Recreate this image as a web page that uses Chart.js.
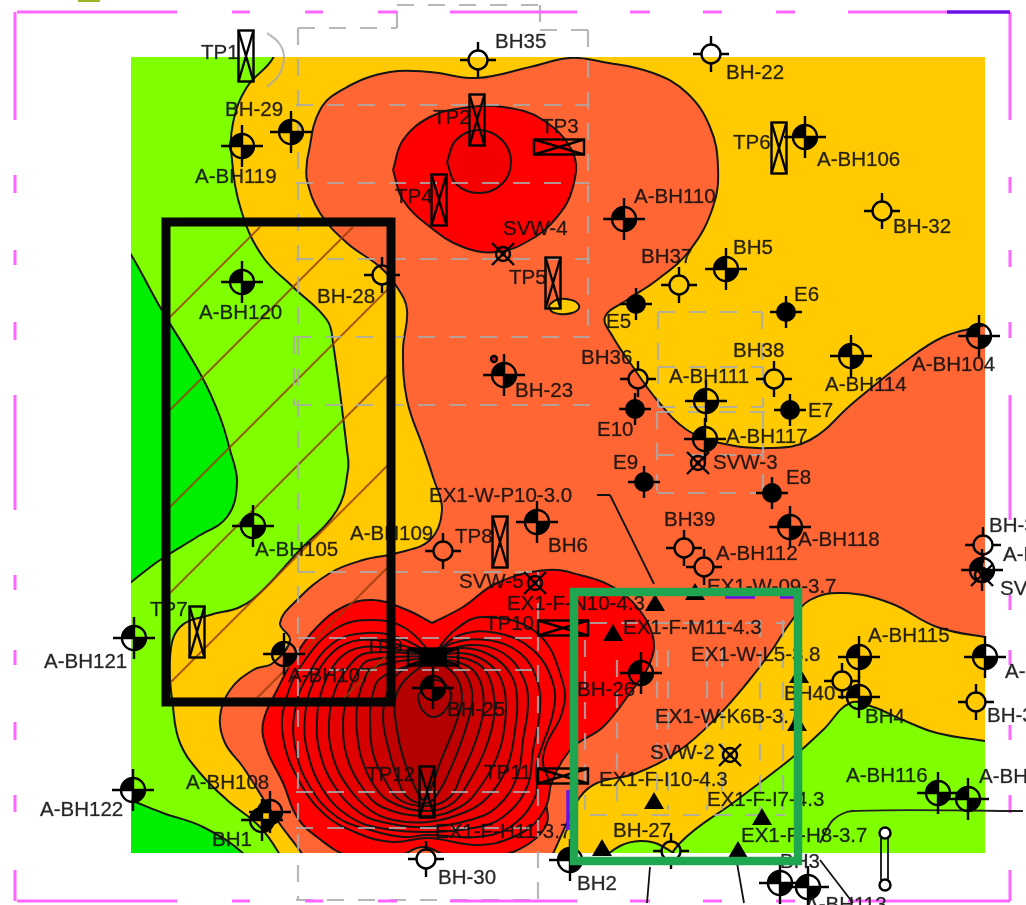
<!DOCTYPE html>
<html><head><meta charset="utf-8">
<style>html,body{margin:0;padding:0;background:#fff;overflow:hidden}canvas{display:block;filter:blur(.7px)}</style>
<script src="https://cdn.jsdelivr.net/npm/chart.js@4"></script>
</head><body><canvas id="c" width="1026" height="905"></canvas>
<script>
// ---------- contour zones (map coordinates) ----------
const mapRect = [131,57,985,853];
const amberZone = [[273,40],[273,58],[247,87],[233,123],[232,160],[242,213],[263,257],[293,287],[327,320],[333,343],[347,450],[348,470],[337,510],[297,553],[263,590],[240,607],[210,615],[180,627],[170,657],[173,707],[180,743],[200,773],[227,800],[260,827],[280,855],[292,880],[1010,880],[1010,30]];
const brightLeftUpper = [[100,210],[130,253],[160,307],[202,377],[220,417],[230,450],[237,483],[227,517],[197,537],[160,560],[130,583],[95,610]];
const brightLeftLower = [[100,790],[130,800],[163,813],[203,827],[245,855],[262,880],[100,880]];
const limeRight = [[655,885],[680,843],[737,800],[793,757],[823,730],[850,703],[873,707],[903,720],[937,733],[985,741],[1015,745],[1015,885]];
const limeBump = [[598,862],[620,846],[640,841],[660,845],[680,862]];
const orangeZone = [[307,160],[320,110],[347,87],[390,72],[430,72],[477,78],[530,67],[570,58],[603,62],[653,73],[687,93],[710,127],[718,167],[713,207],[690,250],[657,280],[627,300],[605,317],[613,337],[633,367],[657,400],[687,430],[720,443],[770,448],[810,440],[853,403],[903,363],[943,337],[985,325],[1015,315],[1020,480],[1015,640],[985,637],[937,627],[890,603],[843,593],[810,600],[790,623],[770,653],[747,683],[717,717],[680,750],[637,773],[597,783],[580,797],[566,825],[552,856],[540,880],[318,880],[303,855],[277,820],[243,767],[225,743],[220,717],[230,690],[253,670],[273,663],[290,640],[280,623],[297,600],[330,573],[363,560],[397,553],[430,540],[442,510],[433,477],[423,447],[407,400],[403,350],[407,310],[397,287],[380,267],[347,243],[320,213],[307,180]];
const amberEllipse = [[549,305],[556,300],[566,299],[576,302],[579,308],[572,313],[560,314],[551,311]];
const redTop = [[393,170],[403,140],[430,117],[463,108],[503,107],[543,120],[573,153],[573,187],[557,217],[530,240],[497,252],[463,247],[430,227],[403,200]];
const redCircle = [[447,162],[456,140],[479,130],[502,140],[511,162],[502,184],[479,193],[456,184]];
const redBottom = [[432,623],[407,610],[373,600],[343,607],[317,627],[297,653],[277,690],[263,723],[267,750],[283,783],[297,817],[317,837],[350,856],[397,856],[423,847],[450,856],[497,856],[530,843],[547,823],[547,797],[570,750],[603,727],[630,693],[650,663],[653,637],[637,607],[613,587],[580,575],[547,570],[497,583],[463,607]];
const band1 = [[433,655],[405,628],[373,620],[337,628],[303,663],[285,703],[283,737],[297,777],[323,813],[357,833],[393,842],[428,838],[477,845],[513,837],[540,817],[550,787],[543,763],[547,743],[562,713],[563,683],[537,633],[483,617],[455,630]];
const band2 = [[433,655],[400,638],[367,633],[333,643],[307,677],[295,710],[295,747],[310,787],[337,817],[370,830],[403,837],[428,835],[477,837],[510,827],[535,797],[537,763],[553,713],[553,683],[533,650],[497,633],[460,635]];
const band3 = [[433,655],[400,645],[360,640],[333,652],[313,683],[305,717],[307,750],[323,790],[350,817],[380,828],[428,832],[473,828],[503,817],[527,787],[533,750],[540,710],[537,680],[520,653],[487,640],[453,643]];
const band4 = [[433,655],[400,650],[363,647],[340,658],[323,687],[317,720],[320,753],[335,787],[360,813],[387,823],[428,827],[470,820],[497,807],[517,777],[523,740],[528,703],[523,677],[503,653],[470,645]];
const band5 = [[433,655],[367,653],[350,665],[335,690],[329,723],[333,757],[348,787],[370,810],[393,820],[428,822],[463,813],[487,798],[507,767],[515,730],[517,697],[510,673],[490,655],[463,648]];
const band6 = [[433,656],[370,660],[357,673],[347,697],[343,723],[347,757],[362,787],[382,807],[428,816],[460,807],[478,790],[497,757],[505,723],[505,693],[497,672],[480,658],[460,653]];
const band7 = [[433,657],[375,667],[363,683],[357,707],[357,733],[362,760],[375,787],[393,803],[428,811],[453,803],[470,780],[485,750],[494,717],[493,690],[485,670],[470,660],[453,657]];
const band8 = [[433,658],[382,677],[372,697],[370,723],[373,753],[385,780],[400,800],[428,806],[450,797],[462,773],[475,743],[483,713],[482,687],[473,670],[457,662]];
const band9 = [[433,658],[400,672],[388,690],[383,717],[388,747],[397,777],[407,797],[428,803],[440,790],[450,770],[463,737],[472,703],[470,683],[460,668]];
const band10 = [[433,658],[405,680],[395,700],[397,730],[403,757],[413,783],[424,800],[433,783],[440,763],[457,720],[462,695],[455,675]];
const bh25Loop = [[418,695],[421,708],[433,717],[447,708],[450,690],[433,680]];
const bandOrder = [band1,band2,band3,band4,band5,band6,band7,band8,band9,band10,bh25Loop];
const bandColors = ['#fe0000','#fa0000','#f50000','#ee0000','#e70000','#df0000','#d60000','#cb0000','#bf0000','#b30000','#b30000'];

// ---------- line work: segments as x1,y1,x2,y2 ----------
const magentaSegments = [[17,12,177,12],[232,12,250,12],[305,12,323,12],[378,12,397,12],[450,12,577,12],[630,12,650,12],[703,12,722,12],[776,12,795,12],[848,12,947,12],
 [1010,12,1010,120],[1010,177,1010,193],[1010,250,1010,267],[1010,322,1010,338],[1010,395,1010,520],[1010,595,1010,610],[1010,650,1010,665],[1010,725,1010,740],[1010,795,1010,813],[1010,870,1010,901],
 [15,12,15,120],[15,175,15,193],[15,250,15,265],[15,322,15,340],[15,395,15,510],[15,575,15,590],[15,650,15,665],[15,722,15,740],[15,795,15,812],[15,870,15,901],
 [17,901,177,901],[232,901,250,901],[305,901,323,901],[378,901,397,901],[450,901,577,901],[630,901,650,901],[703,901,722,901],[776,901,795,901],[848,901,1010,901]];
const purpleSegments = [[947,12,1010,12],[568,790,568,830],[725,597,755,597],[780,597,795,597],[800,820,800,860]];
const greySegments = [[298,28,298,900],[298,28,397,28],[397,28,397,5],[397,5,540,5],[540,5,540,30],[540,30,588,30],[588,30,588,330],
 [296,105,590,105],[296,183,590,183],[296,259,590,259],[294,337,590,337],[294,405,590,405],[294,337,294,405],
 [298,572,538,572],[298,638,538,638],[298,670,538,670],[296,792,538,792],[296,828,538,828],[296,900,538,900],[538,572,538,900],
 [658,312,762,312],[658,312,658,367],[762,312,762,367],[658,367,763,367],[658,407,763,407],[658,367,658,407],[763,367,763,407],
 [657,412,765,412],[657,412,657,493],[763,412,763,493],[657,455,763,455],[657,493,763,493],
 [590,623,785,623],[590,815,785,815],[585,640,585,810],[617,660,617,810],[657,650,657,810],[668,650,668,810],[707,650,707,810],[722,650,722,810],[760,620,760,810],[783,620,783,810]];
const tp1Arc = [[267,33],[279,43],[284,57],[279,75],[267,87]];
const hatchSegments = [[170,317,260,227],[170,410,353,227],[170,507,391,286],[170,593,391,372],[170,683,391,462],[253,702,391,564],[340,702,391,651]];
const leaderSegments = [[597,495,610,495],[610,495,654,584],[650,867,647,903],[737,863,744,903],[820,860,853,903],[881,838,881,880],[888,838,888,880]];
const pipeRun = [[820,843],[833,820],[852,811],[1023,811]];
const blackBox = [[166,222],[391,222],[391,702],[166,702],[166,222]];
const greenBox = [[574,592],[798,592],[798,861],[574,861],[574,592]];
const topBlob = [[78,0],[100,0]];

// ---------- marks ----------
const quarterWells = [[242,146],[291,132],[242,282],[805,137],[624,219],[726,269],[851,356],[979,336],[504,375],[706,401],[705,439],[790,527],[537,522],[253,526],[134,638],[284,654],[433,688],[133,790],[270,812],[262,820],[641,673],[859,657],[859,697],[985,657],[938,793],[968,799],[780,883],[808,887],[982,570],[570,860]];
const openWells = [[478,60],[711,54],[882,211],[382,275],[679,285],[774,379],[638,379],[443,551],[684,548],[704,567],[842,681],[976,702],[983,545],[426,859],[671,851]];
const solidWells = [[636,304],[786,312],[790,410],[635,409],[644,482],[772,493]];
const svwWells = [[503,254],[698,463],[535,583],[730,755],[982,575]];
const pitsUpright = [[246,56],[477,120],[439,200],[553,283],[779,148],[197,632],[500,542],[427,792]];
const pitsFlat = [[559,147],[563,628],[563,776]];
const pitDense = [[433,657]];
const triangles = [[655,603],[613,633],[654,801],[762,817],[738,850],[602,848],[695,592],[799,675],[797,723]];
const smallRings = [[885,833],[885,885]];
const redDot = [[494,359]];

const placeLabels = [["TP1",201,53],["BH35",495,42],["BH-22",726,73],["BH-29",225,110],["A-BH119",195,177],["TP2",433,118],["TP3",541,127],["TP4",395,197],["TP6",733,143],["A-BH106",817,160],["A-BH110",634,197],["BH-32",893,227],["SVW-4",503,229],["BH37",641,257],["BH5",733,248],["TP5",509,278],["BH-28",317,297],["A-BH120",199,313],["E5",606,322],["E6",794,295],["BH38",733,351],["BH36",581,358],["A-BH111",669,377],["A-BH114",825,385],["A-BH104",912,365],["BH-23",515,391],["E7",808,411],["E10",597,430],["A-BH117",726,437],["SVW-3",713,463],["E9",613,463],["E8",786,478],["EX1-W-P10-3.0",429,496],["BH39",664,520],["A-BH118",798,540],["A-BH105",255,550],["A-BH109",350,534],["TP8",455,537],["BH6",548,546],["A-BH112",716,554],["SVW-5",459,582],["EX1-W-09-3.7",707,587],["EX1-F-N10-4.3",507,604],["TP10",485,624],["EX1-F-M11-4.3",623,628],["TP7",150,610],["A-BH115",868,636],["EX1-W-L5-3.8",691,655],["A-BH121",44,662],["TP9",365,647],["A-BH107",288,676],["BH-26",577,690],["BH40",784,694],["BH4",865,717],["EX1-W-K6B-3.7",655,717],["BH-25",447,710],["SVW-2",650,753],["TP12",366,775],["TP11",484,773],["EX1-F-I10-4.3",599,780],["A-BH116",846,776],["A-BH108",186,783],["A-BH",979,777],["EX1-F-I7-4.3",707,800],["A-BH122",40,810],["BH1",212,840],["BH-27",613,831],["EX1-F-H8-3.7",741,836],["EX1-F-H11-3.7",435,832],["BH3",780,862],["BH-30",438,878],["BH2",577,884],["A-BH113",805,905],["BH-3",989,526],["A-B",1003,555],["SV",1000,589],["A-B",1005,672],["BH-3",987,716]];

// ---------- helpers ----------
const pts = a => a.map(([x,y]) => ({x,y}));
const closed = a => pts([...a, a[0]]);
const segs = a => a.flatMap(([x1,y1,x2,y2]) => [{x:x1,y:y1},{x:x2,y:y2},{x:NaN,y:NaN}]);
function marker(w,h,draw){const c=document.createElement('canvas');c.width=w;c.height=h;const g=c.getContext('2d');g.translate(w/2,h/2);g.strokeStyle='#000';g.fillStyle='#000';g.lineWidth=2.4;draw(g);return c;}
function cross(g,r){g.beginPath();g.moveTo(-r,0);g.lineTo(r,0);g.moveTo(0,-r);g.lineTo(0,r);g.stroke();}
const imgQuarter = marker(48,48,g=>{cross(g,21);g.beginPath();g.arc(0,0,12,0,Math.PI*2);g.stroke();g.beginPath();g.moveTo(0,0);g.arc(0,0,12,Math.PI,Math.PI*1.5);g.closePath();g.fill();g.beginPath();g.moveTo(0,0);g.arc(0,0,12,0,Math.PI*.5);g.closePath();g.fill();});
const imgOpen = marker(44,44,g=>{g.beginPath();g.moveTo(-18,0);g.lineTo(-9,0);g.moveTo(9,0);g.lineTo(18,0);g.moveTo(0,-18);g.lineTo(0,-9);g.moveTo(0,9);g.lineTo(0,18);g.stroke();g.beginPath();g.arc(0,0,9.5,0,Math.PI*2);g.stroke();});
const imgSolid = marker(40,40,g=>{cross(g,16);g.beginPath();g.arc(0,0,10,0,Math.PI*2);g.fill();});
const imgSvw = marker(32,32,g=>{g.beginPath();g.moveTo(-11,-11);g.lineTo(11,11);g.moveTo(11,-11);g.lineTo(-11,11);g.stroke();g.beginPath();g.arc(0,0,7,0,Math.PI*2);g.stroke();g.beginPath();g.arc(0,0,2.5,0,Math.PI*2);g.fill();});
const pit = (g,w,h)=>{g.strokeRect(-w/2,-h/2,w,h);g.beginPath();g.moveTo(-w/2,-h/2);g.lineTo(w/2,h/2);g.moveTo(w/2,-h/2);g.lineTo(-w/2,h/2);g.stroke();};
const imgUp = marker(20,56,g=>pit(g,15,51));
const imgFlat = marker(56,20,g=>pit(g,50,15));
const imgDense = marker(56,22,g=>{g.fillRect(-14,-9,28,18);pit(g,50,17);});
const imgTri = marker(24,22,g=>{g.beginPath();g.moveTo(0,-9);g.lineTo(10,8);g.lineTo(-10,8);g.closePath();g.fill();});
const imgRing = marker(16,16,g=>{g.beginPath();g.arc(0,0,5.5,0,Math.PI*2);g.fillStyle='#fff';g.fill();g.stroke();});
const imgDot = marker(10,10,g=>{g.fillStyle='#c01818';g.beginPath();g.arc(0,0,3,0,Math.PI*2);g.fill();g.stroke();});

const zone = (arr,color,extra={}) => ({data:closed(arr),backgroundColor:color,borderColor:'#151515',borderWidth:2,fill:'shape',showLine:true,tension:.4,pointRadius:0,...extra});
const wire = (data,color,width,extra={}) => ({data,borderColor:color,borderWidth:width,showLine:true,fill:false,tension:0,pointRadius:0,spanGaps:false,...extra});
const wells = (arr,img) => ({data:pts(arr),showLine:false,pointStyle:img,pointRadius:10,pointHoverRadius:10,borderWidth:0});

const zones = [
  zone(amberZone,'#ffcb00'),
  zone(brightLeftUpper,'#00ee00'),
  zone(brightLeftLower,'#00ee00'),
  zone(limeRight,'#7fff00'),
  zone(limeBump,'#7fff00'),
  zone(orangeZone,'#ff6633'),
  zone(amberEllipse,'#ffcb00'),
  zone(redTop,'#ff0000'),
  zone(redCircle,'#f40000'),
  zone(redBottom,'#ff0000'),
  ...bandOrder.map((b,i)=>zone(b,bandColors[i]))
];
zones[zones.length-1].endMapClip = true;
const painted = [...zones,
  wire(segs(hatchSegments),'rgba(150,60,10,.8)',2),
  wire(segs(greySegments),'rgba(170,170,170,.85)',2.2,{borderDash:[17,14]}),
  wire(pts(tp1Arc),'rgba(170,170,170,.85)',2,{tension:.4}),
  wire(segs(magentaSegments),'#ff66ff',3),
  wire(segs(leaderSegments),'#111',1.8),
  wire(pts(pipeRun),'#222',1.8,{tension:.3}),
  wire(pts(topBlob),'#9ab821',4),
  wells(quarterWells,imgQuarter),wells(openWells,imgOpen),wells(solidWells,imgSolid),wells(svwWells,imgSvw),
  wells(pitsUpright,imgUp),wells(pitsFlat,imgFlat),wells(pitDense,imgDense),wells(triangles,imgTri),wells(smallRings,imgRing),
  {...wells(redDot,imgDot),drawLabels:true},
  wire(segs(purpleSegments),'#6a10e8',3.5),
  wire(pts(blackBox),'#050505',9,{borderCapStyle:'square'}),
  wire(pts(greenBox),'#20a650',8.5,{borderCapStyle:'square'})
];

const mapClip = {id:'mapClip',
  beforeDatasetsDraw(chart){const c=chart.ctx;const {x,y}=chart.scales;const [a,b,d,e]=mapRect;const L=x.getPixelForValue(a),T=y.getPixelForValue(b),W=x.getPixelForValue(d)-L,H=y.getPixelForValue(e)-T;c.save();c.fillStyle='#7fff00';c.fillRect(L,T,W,H);c.beginPath();c.rect(L,T,W,H);c.clip();},
  afterDatasetDraw(chart,args){const ds=chart.data.datasets[args.index];const c=chart.ctx;if(ds.endMapClip)c.restore();
    if(ds.drawLabels){const {x,y}=chart.scales;c.save();c.font='20.5px "Liberation Sans"';c.fillStyle='rgba(15,15,15,.9)';c.strokeStyle='rgba(15,15,15,.5)';c.lineWidth=.5;c.textBaseline='middle';c.textAlign='left';placeLabels.forEach(([t,px,py])=>{const X=x.getPixelForValue(px),Y=y.getPixelForValue(py);c.fillText(t,X,Y);c.strokeText(t,X,Y);});c.restore();}}
};

new Chart(document.getElementById('c'),{
  type:'scatter',
  data:{datasets:painted.reverse()},
  options:{responsive:false,animation:false,devicePixelRatio:1,layout:{padding:0,autoPadding:false},
    plugins:{legend:{display:false},tooltip:{enabled:false}},events:[],
    scales:{x:{type:'linear',display:false,min:0,max:1026},y:{type:'linear',display:false,min:0,max:905,reverse:true}}},
  plugins:[mapClip]
});
</script></body></html>
